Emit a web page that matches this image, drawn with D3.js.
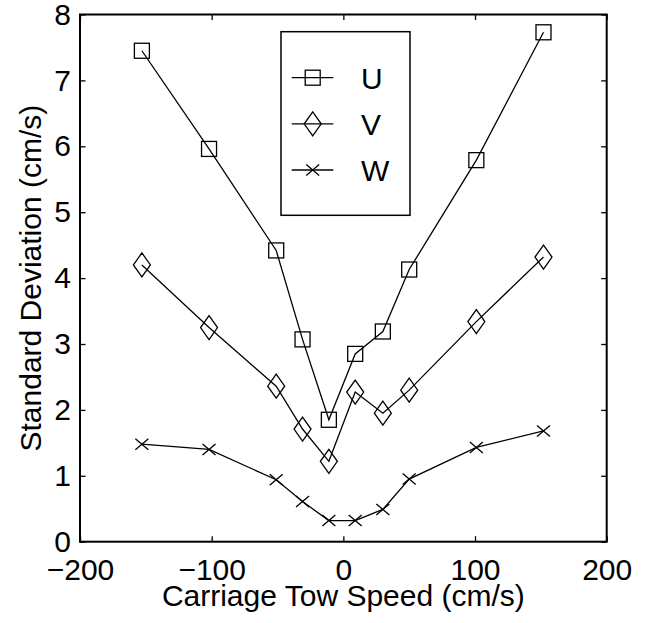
<!DOCTYPE html>
<html>
<head>
<meta charset="utf-8">
<script src="https://cdn.jsdelivr.net/npm/d3@7"></script>
<style>
  html, body { margin: 0; padding: 0; background: #fff; }
  svg text { font-family: "Liberation Sans", Arial, Helvetica, sans-serif; fill: #000; }
</style>
</head>
<body>
<svg id="chart" width="656" height="623"></svg>
<script>
// Tow speeds (cm/s) and standard deviation of each velocity component (cm/s)
const speeds = [-153, -102, -51, -31, -11, 9, 30, 50, 101, 152];
const uStd = [7.45, 5.96, 4.42, 3.07, 1.85, 2.85, 3.19, 4.13, 5.79, 7.73];
const vStd = [4.20, 3.25, 2.36, 1.71, 1.22, 2.27, 1.95, 2.30, 3.34, 4.32];
const wStd = [1.48, 1.40, 0.94, 0.61, 0.32, 0.32, 0.49, 0.95, 1.43, 1.68];
const seriesNames = ["U", "V", "W"];
const xTicks = [-200, -100, 0, 100, 200];
const yTicks = [0, 1, 2, 3, 4, 5, 6, 7, 8];

const svg = d3.select("#chart");
const plot = { left: 80, right: 606.7, top: 14.5, bottom: 541.7 };
const fontSize = 30;

const x = d3.scaleLinear().domain([-200, 200]).range([plot.left, plot.right]);
const y = d3.scaleLinear().domain([0, 8]).range([plot.bottom, plot.top]);

const series = [
  { name: seriesNames[0], values: uStd, marker: "square" },
  { name: seriesNames[1], values: vStd, marker: "diamond" },
  { name: seriesNames[2], values: wStd, marker: "cross" }
];

function drawMarker(g, type, cx, cy) {
  if (type === "square") {
    g.append("rect").attr("x", cx - 7.5).attr("y", cy - 7.5)
      .attr("width", 15).attr("height", 15)
      .attr("fill", "none").attr("stroke", "#000").attr("stroke-width", 1.3);
  } else if (type === "diamond") {
    g.append("path")
      .attr("d", `M${cx},${cy - 12}L${cx + 8.5},${cy}L${cx},${cy + 12}L${cx - 8.5},${cy}Z`)
      .attr("fill", "none").attr("stroke", "#000").attr("stroke-width", 1.3);
  } else {
    g.append("path")
      .attr("d", `M${cx - 6.5},${cy - 5.5}L${cx + 6.5},${cy + 5.5}M${cx - 6.5},${cy + 5.5}L${cx + 6.5},${cy - 5.5}`)
      .attr("fill", "none").attr("stroke", "#000").attr("stroke-width", 1.3);
  }
}

// Data lines and markers
const line = d3.line().x(d => x(d[0])).y(d => y(d[1]));
series.forEach(s => {
  const pts = speeds.map((sp, i) => [sp, s.values[i]]);
  svg.append("path").datum(pts).attr("d", line)
    .attr("fill", "none").attr("stroke", "#000").attr("stroke-width", 1.3);
  const mg = svg.append("g");
  pts.forEach(p => drawMarker(mg, s.marker, x(p[0]), y(p[1])));
});

// Axes box with inward ticks on all four sides
const tickLen = 5.5;
const bottomAxis = d3.axisBottom(x).tickValues(xTicks).tickSizeInner(-tickLen).tickSizeOuter(0)
  .tickFormat(d => d < 0 ? "\u2212" + Math.abs(d) : d);
const topAxis = d3.axisTop(x).tickValues(xTicks).tickSizeInner(-tickLen).tickSizeOuter(0).tickFormat("");
const leftAxis = d3.axisLeft(y).tickValues(yTicks).tickSizeInner(-tickLen).tickSizeOuter(0);
const rightAxis = d3.axisRight(y).tickValues(yTicks).tickSizeInner(-tickLen).tickSizeOuter(0).tickFormat("");

function styleAxis(g) {
  g.select(".domain").remove();
  g.selectAll(".tick line").attr("stroke", "#000").attr("stroke-width", 1.3);
  g.selectAll(".tick text").attr("font-size", fontSize).attr("fill", "#000")
    .attr("font-family", "Liberation Sans, Arial, sans-serif");
}

svg.append("g").attr("transform", `translate(0,${plot.bottom})`).call(bottomAxis).call(styleAxis)
  .selectAll(".tick text").attr("y", 17);
svg.append("g").attr("transform", `translate(0,${plot.top})`).call(topAxis).call(styleAxis);
svg.append("g").attr("transform", `translate(${plot.left},0)`).call(leftAxis).call(styleAxis)
  .selectAll(".tick text").attr("x", -9);
svg.append("g").attr("transform", `translate(${plot.right},0)`).call(rightAxis).call(styleAxis);

svg.append("rect")
  .attr("x", plot.left).attr("y", plot.top)
  .attr("width", plot.right - plot.left).attr("height", plot.bottom - plot.top)
  .attr("fill", "none").attr("stroke", "#000").attr("stroke-width", 2);

// Axis titles
svg.append("text")
  .attr("x", (plot.left + plot.right) / 2).attr("y", 606)
  .attr("text-anchor", "middle").attr("font-size", fontSize)
  .text("Carriage Tow Speed (cm/s)");
svg.append("text")
  .attr("transform", `translate(41,${(plot.top + plot.bottom) / 2}) rotate(-90)`)
  .attr("text-anchor", "middle").attr("font-size", fontSize)
  .text("Standard Deviation (cm/s)");

// Legend
const legend = { x: 281, y: 31.7, w: 129, h: 183.6 };
const lg = svg.append("g");
lg.append("rect").attr("x", legend.x).attr("y", legend.y)
  .attr("width", legend.w).attr("height", legend.h)
  .attr("fill", "#fff").attr("stroke", "#000").attr("stroke-width", 1.5);
const rowY = d3.scalePoint().domain(seriesNames).range([77.7, 170]);
series.forEach(s => {
  const cy = rowY(s.name);
  lg.append("line").attr("x1", 291.7).attr("x2", 333.3).attr("y1", cy).attr("y2", cy)
    .attr("stroke", "#000").attr("stroke-width", 1.3);
  drawMarker(lg, s.marker, 312.7, cy);
  lg.append("text").attr("x", 361).attr("y", cy).attr("dy", "0.36em")
    .attr("font-size", fontSize).text(s.name);
});
</script>
</body>
</html>
